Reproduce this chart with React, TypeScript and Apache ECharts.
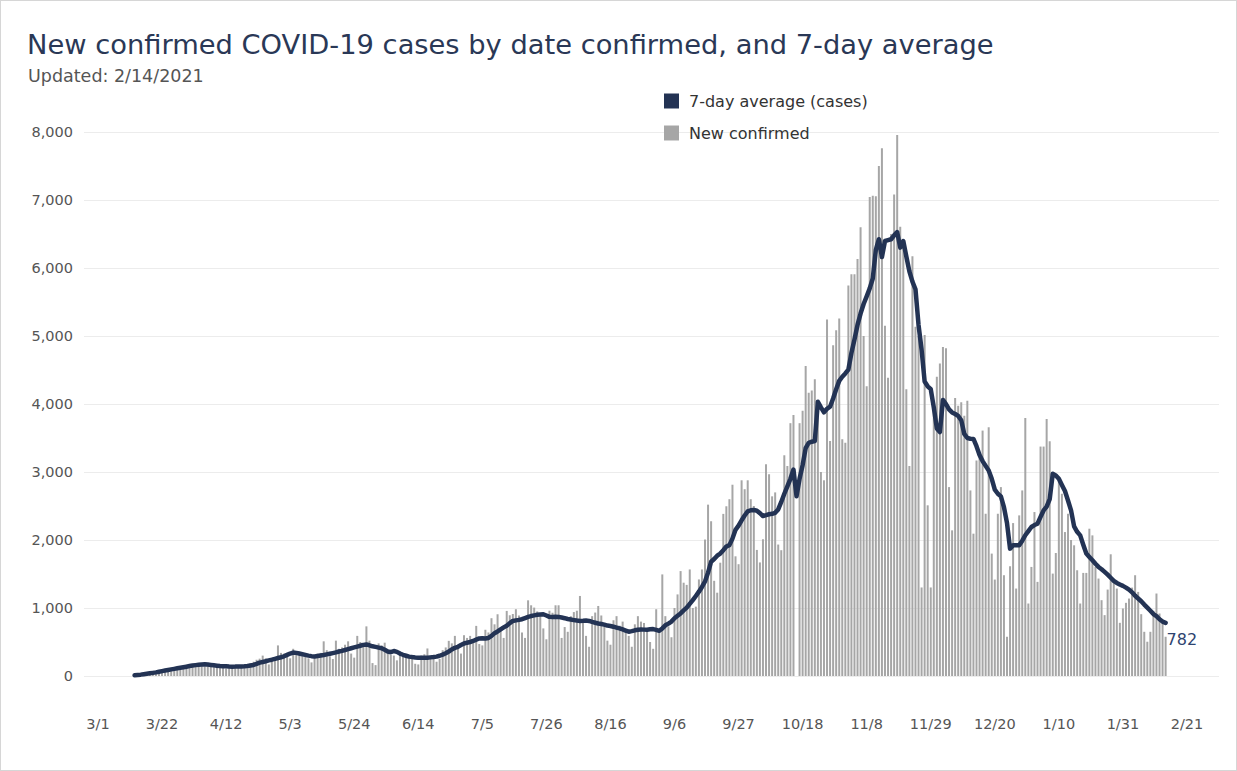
import React, { useEffect, useRef } from "react";
import * as echarts from "echarts";

// Day index 0 = 2020-03-01
const DAY0 = Date.UTC(2020, 2, 1);
const START_DAY = 12; // first data day (3/13/2020)

const xTickDays = [0, 21, 42, 63, 84, 105, 126, 147, 168, 189, 210, 231, 252, 273, 294, 315, 336, 357];
const yTicks = [0, 1000, 2000, 3000, 4000, 5000, 6000, 7000, 8000];

const seriesNames = ["7-day average (cases)", "New confirmed"];
const updatedText = "Updated: 2/14/2021";
const titleText = "New confirmed COVID-19 cases by date confirmed, and 7-day average";

const newConfirmed = [
  15, 20, 18, 25, 40, 45, 55,
  60, 70, 65, 75, 95, 100, 110,
  120, 130, 105, 140, 160, 165, 175,
  185, 190, 140, 150, 170, 175, 160,
  165, 130, 110, 125, 145, 150, 155,
  160, 140, 115, 190, 210, 240, 255,
  300, 260, 170, 230, 270, 450, 340,
  330, 320, 260, 400, 360, 310, 290,
  300, 260, 200, 290, 330, 340, 510,
  380, 290, 250, 520, 400, 420, 460,
  510, 330, 270, 590, 500, 480, 730,
  520, 190, 160, 480, 450, 490, 340,
  310, 300, 230, 350, 330, 300, 290,
  260, 180, 170, 300, 320, 405, 300,
  280, 210, 250, 380, 420, 517, 480,
  590, 400, 330, 600, 560, 590, 520,
  737, 470, 450, 680, 640, 850, 760,
  908, 700, 560, 957, 893, 910, 982,
  890, 640, 560, 1113, 1040, 1006, 950,
  900, 700, 540, 960, 930, 1040, 1040,
  560, 720, 650, 880, 940, 960, 1177,
  780, 590, 430, 880, 933, 1030, 890,
  760, 520, 460, 820, 880, 740, 800,
  650, 590, 430, 760, 880, 800, 780,
  700, 500, 400, 982, 650, 1494, 880,
  730, 570, 1000, 1200, 1543, 1372, 1340,
  1567, 1000, 1020, 1420, 1567, 2007, 2520,
  2276, 1400, 1225, 1666, 2384, 2496, 2600,
  2813, 1760, 1644, 2878, 2747, 2878, 2600,
  2500, 1854, 1670, 2011, 3114, 2967, 2642,
  2700, 1933, 1850, 3246, 3088, 3718, 3839,
  0, 3718, 3902, 4559, 4165, 4200, 4364,
  3900, 3000, 2878, 5242, 3456, 4863, 5084,
  5257, 3482, 3430, 5741, 5909, 5909, 6134,
  6600, 5000, 4260, 7043, 7064, 7054, 7500,
  7762, 5152, 4385, 6500, 7080, 7957, 6607,
  6318, 4217, 3088, 6171, 5137, 5000, 1302,
  5016, 2510, 1302, 4000, 4400, 4595, 4837,
  4821, 2778, 2142, 4088, 3976, 4024, 3829,
  4049, 2729, 2093, 3169, 3267, 3609, 2386,
  3658, 1800, 1418, 2386, 2778, 1482, 577,
  1614, 2249, 1286, 2362, 2729, 3795, 1066,
  1604, 2411, 1384, 3374, 3374, 3780, 3452,
  1506, 1809, 2900, 2680, 2117, 2386, 2000,
  1922, 1555, 1066, 1516, 1516, 2166, 2068,
  1604, 1433, 1115, 895, 1271, 1790, 1384,
  1286, 782, 993, 1076, 1139, 1300, 1482,
  1237, 909, 650, 504, 650, 958, 1213,
  919, 822, 577,
];

const sevenDayAverage = [
  10, 15, 20, 27, 33, 40, 46,
  53, 62, 72, 80, 88, 97, 105,
  113, 120, 128, 137, 146, 153, 160,
  165, 170, 172, 168, 162, 157, 152,
  148, 145, 142, 139, 137, 138, 140,
  141, 143, 147, 154, 162, 178, 196,
  206, 217, 230, 240, 252, 264, 276,
  290, 310, 330, 345, 340, 330, 320,
  310, 300, 292, 288, 295, 302, 308,
  318, 328, 337, 347, 360, 370, 382,
  395, 408, 420, 432, 445, 458, 464,
  452, 437, 428, 418, 408, 385, 360,
  350, 368, 355, 330, 312, 298, 285,
  278, 273, 270, 269, 268, 270, 274,
  278, 285, 298, 315, 335, 360, 390,
  415, 430, 455, 478, 490, 500, 515,
  535, 552, 556, 552, 560, 590, 630,
  655, 685, 715, 740, 778, 810, 818,
  825, 835, 852, 868, 882, 892, 900,
  905, 908, 890, 870, 868, 872, 869,
  860, 850, 838, 830, 822, 815, 810,
  812, 815, 810, 795, 783, 772, 765,
  755, 742, 735, 725, 712, 700, 685,
  668, 652, 660, 672, 680, 685, 682,
  680, 686, 690, 678, 664, 700, 745,
  770, 800, 850, 885, 920, 965, 1005,
  1060, 1115, 1177, 1240, 1310, 1390, 1520,
  1680, 1720, 1770, 1800, 1850, 1905, 1925,
  2020, 2150, 2210, 2290, 2360, 2420, 2438,
  2442, 2430, 2395, 2353, 2365, 2379, 2385,
  2400, 2450, 2560, 2680, 2790, 2900, 3036,
  2642, 2900, 3100, 3350, 3430, 3445, 3456,
  4034, 3950, 3876, 3930, 3960, 4080, 4217,
  4340, 4401, 4450, 4506, 4750, 4950, 5163,
  5330, 5470, 5583, 5700, 5846, 6266, 6423,
  6161, 6397, 6410, 6423, 6480, 6528, 6300,
  6397, 6170, 5951, 5800, 5688, 5163, 4800,
  4330, 4260, 4217, 3950, 3640, 3587, 4060,
  4000, 3920, 3876, 3853, 3824, 3760, 3560,
  3500, 3490, 3487, 3380, 3250, 3160, 3090,
  3022, 2900, 2740, 2680, 2641, 2484, 2250,
  1873, 1922, 1922, 1922, 1990, 2070, 2130,
  2191, 2220, 2240, 2340, 2435, 2490, 2600,
  2973, 2950, 2900, 2810, 2720, 2580, 2435,
  2200, 2120, 2068, 1930, 1800, 1750, 1702,
  1650, 1604, 1570, 1531, 1490, 1445, 1400,
  1369, 1345, 1325, 1300, 1270, 1230, 1180,
  1140, 1100, 1050, 1005, 960, 910, 880,
  835, 800, 782,
];

const FONT = "'DejaVu Sans', Verdana, sans-serif";

function dayLabel(d: number): string {
  const dt = new Date(DAY0 + Math.round(d) * 86400000);
  return `${dt.getUTCMonth() + 1}/${dt.getUTCDate()}`;
}

export default function App() {
  const ref = useRef<HTMLDivElement>(null);

  useEffect(() => {
    if (!ref.current) return;
    const chart = echarts.init(ref.current, undefined, { renderer: "svg" });

    const barData = newConfirmed.map((v, i) => [START_DAY + i, v]);
    const lineData = sevenDayAverage.map((v, i) => [START_DAY + i, v]);
    const lastAvg = sevenDayAverage[sevenDayAverage.length - 1];

    chart.setOption({
      animation: false,
      backgroundColor: "#ffffff",
      textStyle: { fontFamily: FONT },
      title: [
        {
          text: titleText,
          left: 26,
          top: 30,
          padding: 0,
          textStyle: { fontFamily: FONT, fontSize: 27.3, fontWeight: "normal", color: "#2a3856" },
        },
        {
          text: updatedText,
          left: 27,
          top: 66,
          padding: 0,
          textStyle: { fontFamily: FONT, fontSize: 17.5, fontWeight: "normal", color: "#555555" },
        },
      ],
      legend: {
        data: seriesNames,
        orient: "vertical",
        left: 663,
        top: 92,
        padding: 0,
        icon: "rect",
        itemWidth: 15,
        itemHeight: 15,
        itemGap: 16,
        textStyle: { fontFamily: FONT, fontSize: 16, color: "#333333", padding: [0, 0, 0, 5] },
      },
      grid: { left: 83, right: 17, top: 131, bottom: 94, containLabel: false },
      xAxis: {
        type: "value",
        min: -4.58,
        max: 367.5,
        axisLine: { show: false },
        axisTick: { show: false },
        splitLine: { show: false },
        axisLabel: {
          customValues: xTickDays,
          formatter: (v: number) => dayLabel(v),
          margin: 40,
          fontSize: 14.5,
          color: "#555555",
          fontFamily: FONT,
        },
      },
      yAxis: {
        type: "value",
        min: yTicks[0],
        max: yTicks[yTicks.length - 1],
        interval: 1000,
        axisLine: { show: false },
        axisTick: { show: false },
        splitLine: { lineStyle: { color: "#ececec", width: 1 } },
        axisLabel: {
          margin: 11,
          fontSize: 14.5,
          color: "#555555",
          fontFamily: FONT,
          formatter: (v: number) => v.toLocaleString("en-US"),
        },
      },
      series: [
        {
          name: seriesNames[1],
          type: "bar",
          data: barData,
          barWidth: 2,
          itemStyle: { color: "#a6a6a6" },
          z: 1,
        },
        {
          name: seriesNames[0],
          type: "line",
          data: lineData,
          showSymbol: false,
          symbol: "none",
          itemStyle: { color: "#233354" },
          lineStyle: { color: "#233354", width: 4.5, join: "round", cap: "round" },
          z: 3,
          endLabel: {
            show: true,
            formatter: () => String(lastAvg),
            distance: 1,
            offset: [0, 17],
            fontSize: 16,
            color: "#2e4470",
            fontFamily: FONT,
          },
        },
      ],
    });

    return () => chart.dispose();
  }, []);

  return (
    <div
      style={{
        position: "fixed",
        left: 0,
        top: 0,
        width: 1237,
        height: 771,
        boxSizing: "border-box",
        border: "1px solid #d6d6d6",
        background: "#fff",
      }}
    >
      <div ref={ref} style={{ width: 1235, height: 769 }} />
    </div>
  );
}
